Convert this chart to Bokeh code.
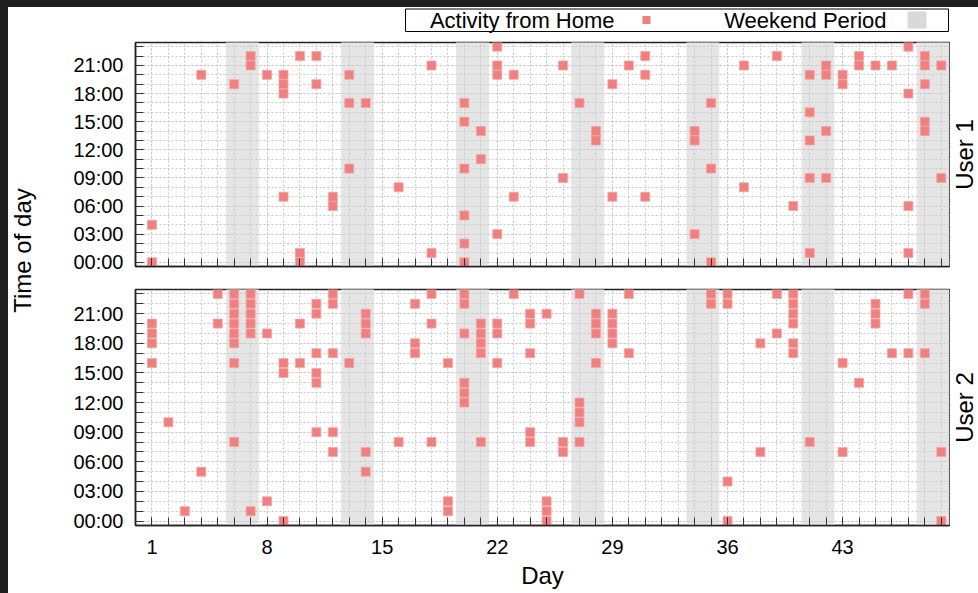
from math import pi
from bokeh.plotting import figure
from bokeh.models import Range1d, FixedTicker, Label, BoxAnnotation, Spacer
from bokeh.layouts import column, row
from bokeh.embed import file_html
from bokeh.resources import INLINE

# ---------------- data ----------------
day_ticks = [1, 8, 15, 22, 29, 36, 43]
all_days = list(range(1, 50))
hour_ticks = [0, 3, 6, 9, 12, 15, 18, 21]
hour_labels = ["00:00", "03:00", "06:00", "09:00", "12:00", "15:00", "18:00", "21:00"]
all_hours = list(range(0, 24))
weekend_start_days = [6, 13, 20, 27, 34, 41, 48]

user1_days = [1, 4, 6, 7, 8, 9, 10, 11, 12, 13, 14, 16, 18, 20, 21, 22, 23, 26, 27,
              28, 29, 30, 31, 34, 35, 37, 39, 40, 41, 42, 43, 44, 45, 46, 47, 48, 49]
user1_hours = [[0, 4], [20], [19], [21, 22], [20], [7, 18, 19, 20], [0, 1, 22], [19, 22],
               [6, 7], [10, 17, 20], [17], [8], [1, 21], [0, 2, 5, 10, 15, 17], [11, 14],
               [3, 20, 21, 23], [7, 20], [9, 21], [17], [13, 14], [7, 19], [21], [7, 20, 22],
               [3, 13, 14], [0, 10, 17], [8, 21], [22], [6], [1, 9, 13, 16, 20],
               [9, 14, 20, 21], [19, 20], [21, 22], [21], [21], [1, 6, 18, 23],
               [14, 15, 19, 21, 22], [9, 21]]

user2_days = [1, 2, 3, 4, 5, 6, 7, 8, 9, 10, 11, 12, 13, 14, 16, 17, 18, 19, 20, 21, 22,
              23, 24, 25, 26, 27, 28, 29, 30, 35, 36, 38, 39, 40, 41, 43, 44, 45, 46, 47,
              48, 49]
user2_hours = [[16, 18, 19, 20], [10], [1], [5], [20, 23], [8, 16, 18, 19, 20, 21, 22, 23],
               [1, 19, 20, 21, 22, 23], [2, 19], [0, 15, 16], [16, 20],
               [9, 14, 15, 17, 21, 22], [7, 9, 17, 22, 23], [16], [5, 7, 19, 20, 21], [8],
               [17, 18, 22], [8, 20, 23], [1, 2, 16], [12, 13, 14, 19, 22, 23],
               [8, 17, 18, 19, 20], [16, 19, 20], [23], [8, 9, 17, 20, 21], [0, 1, 2, 21],
               [7, 8], [8, 10, 11, 12, 23], [16, 19, 20, 21], [18, 19, 20, 21], [17, 23],
               [22, 23], [0, 4, 22, 23], [7, 18], [19, 23], [17, 18, 20, 21, 22, 23], [8],
               [7, 16], [14], [20, 21, 22], [17], [17, 23], [17, 22, 23], [0, 7]]

series_names = ["Activity from Home", "Weekend Period"]
panel_names = ["User 1", "User 2"]

# ---------------- style ----------------
FONT = "Liberation Sans"
POINT_COLOR = "#f08080"
POINT_EDGE = "#f4a4a4"
WEEKEND_COLOR = "#e5e5e5"
GRID_COLOR = "#c8c8c8"
FRAME_COLOR = "#222222"
DARK = "#1f1f1f"


def flatten(days, hours_by_day):
    xs, ys = [], []
    for d, hs in zip(days, hours_by_day):
        for h in hs:
            xs.append(d)
            ys.append(h)
    return xs, ys


def blank_fig(w, h):
    """A figure without axes whose data units are pixels from its top-left corner."""
    f = figure(width=w, height=h, min_border=0,
               x_range=Range1d(0, w), y_range=Range1d(h, 0),
               x_axis_location=None, y_axis_location=None,
               output_backend="svg", toolbar_location=None, tools="")
    f.outline_line_color = None
    f.grid.visible = False
    f.background_fill_color = "white"
    f.border_fill_color = "white"
    return f


def make_panel(days, hours_by_day, height, top_border, bottom_border, bottom_labels):
    p = figure(width=910, height=height,
               min_border_left=95, min_border_right=1,
               min_border_top=top_border, min_border_bottom=bottom_border,
               x_range=Range1d(0, 49.5), y_range=Range1d(-0.45, 23.45),
               output_backend="svg", toolbar_location=None, tools="")
    p.background_fill_color = "white"
    p.border_fill_color = "white"
    p.outline_line_color = FRAME_COLOR
    p.outline_line_width = 1.5

    p.quad(left=[d - 0.5 for d in weekend_start_days],
           right=[d + 1.5 for d in weekend_start_days],
           bottom=-1, top=25, fill_color=WEEKEND_COLOR, line_color=None, level="image")

    xs, ys = flatten(days, hours_by_day)
    p.scatter(xs, ys, marker="square", size=9, fill_color=POINT_COLOR,
              line_color=POINT_EDGE, line_width=0.8)

    xt = FixedTicker(ticks=day_ticks, minor_ticks=all_days)
    yt = FixedTicker(ticks=hour_ticks, minor_ticks=all_hours)
    p.xaxis.ticker = xt
    p.yaxis.ticker = yt
    p.xgrid.ticker = xt
    p.ygrid.ticker = yt
    for g in (p.xgrid, p.ygrid):
        g.grid_line_color = GRID_COLOR
        g.grid_line_dash = "2 2"
        g.grid_line_width = 1
        g.minor_grid_line_color = GRID_COLOR
        g.minor_grid_line_dash = "2 2"
        g.minor_grid_line_width = 1

    for ax in (p.xaxis, p.yaxis):
        ax.axis_line_color = FRAME_COLOR
        ax.axis_line_width = 1.5
        ax.major_tick_in = 8
        ax.major_tick_out = 0
        ax.minor_tick_in = 8
        ax.minor_tick_out = 0
        ax.major_tick_line_color = "#333333"
        ax.minor_tick_line_color = "#333333"
        ax.major_label_text_font = FONT
        ax.major_label_text_font_size = "20px"
        ax.major_label_text_color = "black"

    p.yaxis.major_label_overrides = dict(zip(hour_ticks, hour_labels))
    p.yaxis.major_label_standoff = 12

    if bottom_labels:
        p.xaxis.major_label_standoff = 14
        p.xaxis.axis_label = "Day"
        p.xaxis.axis_label_text_font = FONT
        p.xaxis.axis_label_text_font_size = "24px"
        p.xaxis.axis_label_text_font_style = "normal"
        p.xaxis.axis_label_text_color = "black"
        p.xaxis.axis_label_standoff = 5
    else:
        p.xaxis.major_label_overrides = {t: "" for t in day_ticks}
        p.xaxis.major_label_text_font_size = "0px"
        p.xaxis.major_label_standoff = 0
    return p


p1 = make_panel(user1_days, user1_hours, 237, 1, 12, False)
p2 = make_panel(user2_days, user2_hours, 315, 11, 68, True)

# ---- legend strip above the panels (text first, sample after, as in the original) ----
leg = blank_fig(938, 34)
leg.add_layout(BoxAnnotation(left=365, right=908, top=1.5, bottom=24,
                             fill_color=None, fill_alpha=0,
                             line_color="black", line_alpha=1, line_width=1))
leg.add_layout(Label(x=574, y=12.5, text=series_names[0], text_align="right",
                     text_baseline="middle", text_font=FONT, text_font_size="22px",
                     text_color="black"))
leg.add_layout(BoxAnnotation(left=602, right=610, top=8.5, bottom=16.5,
                             fill_color=POINT_COLOR, fill_alpha=1, line_color=None))
leg.add_layout(Label(x=846, y=12.5, text=series_names[1], text_align="right",
                     text_baseline="middle", text_font=FONT, text_font_size="22px",
                     text_color="black"))
leg.add_layout(BoxAnnotation(left=867, right=886, top=4, bottom=21,
                             fill_color="#d9d9d9", fill_alpha=1, line_color=None))

# ---- shared y title on the left ----
pl = blank_fig(32, 586)
pl.add_layout(Label(x=14, y=243, text="Time of day", angle=pi / 2,
                    text_align="center", text_baseline="middle",
                    text_font=FONT, text_font_size="24px", text_color="black"))

# ---- panel titles on the right ----
pr = blank_fig(28, 552)
pr.add_layout(Label(x=13.5, y=113, text=panel_names[0], angle=pi / 2,
                    text_align="center", text_baseline="middle",
                    text_font=FONT, text_font_size="24px", text_color="black"))
pr.add_layout(Label(x=13.5, y=366, text=panel_names[1], angle=pi / 2,
                    text_align="center", text_baseline="middle",
                    text_font=FONT, text_font_size="24px", text_color="black"))

layout = column(
    Spacer(width=978, height=7, styles={"background-color": DARK}),
    row(
        Spacer(width=8, height=586, styles={"background-color": DARK}),
        pl,
        column(leg, row(column(p1, p2), pr)),
    ),
)

open("out.html", "w").write(file_html(layout, INLINE))
